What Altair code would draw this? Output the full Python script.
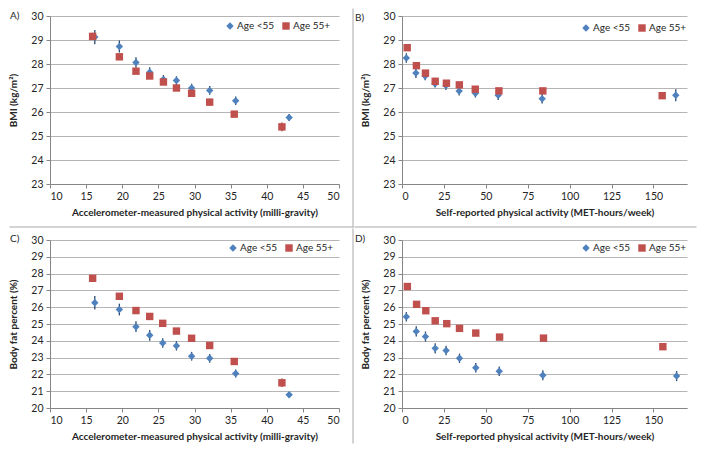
import altair as alt
import pandas as pd

# ---------------- data ----------------
GROUPS = ["Age <55", "Age 55+"]

# Panel A: BMI vs accelerometer-measured activity
A_x_young = [16.2, 19.6, 21.9, 23.8, 25.7, 27.5, 29.6, 32.1, 35.7, 43.1]
A_y_young = [29.12, 28.73, 28.06, 27.66, 27.36, 27.31, 27.00, 26.90, 26.47, 25.77]
A_e_young = [0.30, 0.25, 0.22, 0.20, 0.18, 0.18, 0.18, 0.18, 0.18, 0.15]
A_x_old = [15.9, 19.6, 21.9, 23.8, 25.7, 27.5, 29.6, 32.1, 35.5, 42.1]
A_y_old = [29.15, 28.30, 27.70, 27.50, 27.25, 27.00, 26.78, 26.41, 25.91, 25.38]
A_e_old = [0.15, 0.12, 0.12, 0.12, 0.12, 0.12, 0.12, 0.14, 0.12, 0.18]

# Panel B: BMI vs self-reported activity
B_x_young = [2.6, 8.3, 13.8, 19.7, 26.2, 34.1, 43.8, 57.4, 83.6, 163.3]
B_y_young = [28.25, 27.62, 27.50, 27.18, 27.10, 26.87, 26.78, 26.70, 26.55, 26.70]
B_e_young = [0.20, 0.20, 0.18, 0.16, 0.18, 0.18, 0.18, 0.20, 0.20, 0.25]
B_x_old = [3.1, 8.6, 14.0, 19.8, 26.5, 34.2, 43.7, 57.8, 84.0, 155.2]
B_y_old = [28.68, 27.93, 27.62, 27.28, 27.20, 27.13, 26.95, 26.88, 26.88, 26.68]
B_e_old = [0.14, 0.12, 0.12, 0.12, 0.12, 0.12, 0.12, 0.12, 0.12, 0.12]

# Panel C: body fat % vs accelerometer-measured activity
C_x_young = [16.2, 19.6, 21.9, 23.8, 25.6, 27.5, 29.6, 32.1, 35.7, 43.1]
C_y_young = [26.26, 25.86, 24.84, 24.33, 23.87, 23.70, 23.08, 22.96, 22.05, 20.79]
C_e_young = [0.40, 0.35, 0.32, 0.32, 0.28, 0.28, 0.26, 0.26, 0.24, 0.16]
C_x_old = [15.9, 19.6, 21.9, 23.8, 25.6, 27.5, 29.6, 32.1, 35.5, 42.1]
C_y_old = [27.72, 26.65, 25.80, 25.45, 25.04, 24.58, 24.15, 23.72, 22.77, 21.50]
C_e_old = [0.15, 0.15, 0.15, 0.15, 0.15, 0.15, 0.15, 0.15, 0.18, 0.25]

# Panel D: body fat % vs self-reported activity
D_x_young = [2.6, 8.5, 14.0, 19.8, 26.3, 34.3, 44.0, 58.0, 84.0, 163.8]
D_y_young = [25.43, 24.56, 24.25, 23.55, 23.42, 22.96, 22.40, 22.19, 21.95, 21.90]
D_e_young = [0.28, 0.30, 0.30, 0.30, 0.28, 0.28, 0.28, 0.28, 0.30, 0.30]
D_x_old = [3.2, 8.7, 14.2, 19.8, 26.7, 34.3, 44.0, 58.2, 84.4, 155.6]
D_y_old = [27.23, 26.17, 25.79, 25.19, 25.02, 24.74, 24.46, 24.22, 24.16, 23.65]
D_e_old = [0.15, 0.15, 0.15, 0.15, 0.15, 0.15, 0.15, 0.15, 0.15, 0.18]

ACC_TICKS = [10, 15, 20, 25, 30, 35, 40, 45, 50]
MET_TICKS = [0, 25, 50, 75, 100, 125, 150]
BMI_TICKS = [23, 24, 25, 26, 27, 28, 29, 30]
FAT_TICKS = [20, 21, 22, 23, 24, 25, 26, 27, 28, 29, 30]

ACC_TITLE = "Accelerometer-measured physical activity (milli-gravity)"
MET_TITLE = "Self-reported physical activity (MET-hours/week)"
BMI_TITLE = "BMI (kg/m²)"
FAT_TITLE = "Body fat percent (%)"

# ---------------- styling ----------------
FONT = "Lato"
BLUE, RED = "#4F81BD", "#C0504D"
BLUE_ERR, RED_ERR = "#2B4A70", "#7E2A28"
GRID = "#B5B5B5"
AXIS = "#868686"
TEXT = "#262626"
DIVIDER = "#A8A8A8"


def make_df(xy, xo, yy, yo, ey, eo):
    rows = []
    for x, y, e in zip(xy, yy, ey):
        rows.append({"x": x, "y": y, "lo": y - e, "hi": y + e, "group": GROUPS[0]})
    for x, y, e in zip(xo, yo, eo):
        rows.append({"x": x, "y": y, "lo": y - e, "hi": y + e, "group": GROUPS[1]})
    return pd.DataFrame(rows)


def panel(df, xdom, xticks, xtitle, ydom, yticks, ytitle, label,
          W, H, L, R, T, B, leg_x, leg_y, label_y, right_div, bottom_div):
    xs = alt.Scale(domain=xdom, nice=False, zero=False)
    ys = alt.Scale(domain=ydom, nice=False, zero=False)
    xaxis = alt.Axis(values=xticks, tickCount=40, format="d", title=xtitle,
                     grid=False, tickSize=4, labelPadding=3, titlePadding=6,
                     domainColor=AXIS, tickColor=AXIS, labelFontSize=10.5,
                     titleFontSize=10, titleFontWeight="bold", labelColor=TEXT,
                     titleColor=TEXT, labelFont=FONT, titleFont=FONT,
                     labelOverlap=False)
    yaxis = alt.Axis(values=yticks, tickCount=40, format="d", title=ytitle,
                     grid=True, gridColor=GRID, tickSize=4, labelPadding=3,
                     titlePadding=12, domainColor=AXIS, tickColor=AXIS,
                     labelFontSize=10.5, titleFontSize=10, titleFontWeight="bold",
                     labelColor=TEXT, titleColor=TEXT, labelFont=FONT,
                     titleFont=FONT, labelOverlap=False)

    base = alt.Chart(df)
    err_young = base.transform_filter(alt.datum.group == GROUPS[0]).mark_rule(
        strokeWidth=1.3, color=BLUE_ERR).encode(
        x=alt.X("x:Q", scale=xs, axis=xaxis),
        y=alt.Y("lo:Q", scale=ys, axis=yaxis),
        y2="hi:Q",
    )
    err_old = base.transform_filter(alt.datum.group == GROUPS[1]).mark_rule(
        strokeWidth=1.3, color=RED_ERR).encode(
        x=alt.X("x:Q", scale=xs),
        y=alt.Y("lo:Q", scale=ys),
        y2="hi:Q",
    )
    legend = alt.Legend(title=None, orient="none", legendX=leg_x, legendY=leg_y,
                        direction="horizontal", symbolSize=55, padding=0,
                        labelFont=FONT, labelFontSize=10, labelColor=TEXT,
                        columnPadding=6, labelOffset=2)
    pts = base.mark_point(filled=True, opacity=1, size=55).encode(
        x=alt.X("x:Q", scale=xs),
        y=alt.Y("y:Q", scale=ys),
        color=alt.Color("group:N", scale=alt.Scale(domain=GROUPS, range=[BLUE, RED]),
                        legend=legend),
        shape=alt.Shape("group:N",
                        scale=alt.Scale(domain=GROUPS, range=["diamond", "square"]),
                        legend=legend),
    )
    one = alt.Chart(pd.DataFrame({"k": [0]}))
    # invisible frame that fixes the panel's bounds
    frame = one.mark_rect(opacity=0).encode(
        x=alt.value(-L), x2=alt.value(W + R), y=alt.value(-T), y2=alt.value(H + B))
    lab = one.mark_text(align="left", baseline="top", font=FONT, fontSize=10,
                        color=TEXT).encode(
        x=alt.value(-L + 1), y=alt.value(label_y), text=alt.value(label))
    layers = [frame, err_young, err_old, pts, lab]
    if right_div:
        layers.append(one.mark_rule(color=DIVIDER, strokeWidth=1).encode(
            x=alt.value(W + R - 1), y=alt.value(-T + 0.5), y2=alt.value(H + B - 0.5)))
    if bottom_div:
        layers.append(one.mark_rule(color=DIVIDER, strokeWidth=1).encode(
            x=alt.value(-L + 0.5), x2=alt.value(W + R - 0.5), y=alt.value(H + B - 1)))
    return alt.layer(*layers).properties(width=W, height=H)


dfA = make_df(A_x_young, A_x_old, A_y_young, A_y_old, A_e_young, A_e_old)
dfB = make_df(B_x_young, B_x_old, B_y_young, B_y_old, B_e_young, B_e_old)
dfC = make_df(C_x_young, C_x_old, C_y_young, C_y_old, C_e_young, C_e_old)
dfD = make_df(D_x_young, D_x_old, D_y_young, D_y_old, D_e_young, D_e_old)

pA = panel(dfA, [10, 50], ACC_TICKS, ACC_TITLE, [23, 30], BMI_TICKS, BMI_TITLE, "A)",
           W=289, H=168, L=41, R=15, T=8, B=44, leg_x=175, leg_y=5, label_y=-5,
           right_div=True, bottom_div=True)
pB = panel(dfB, [0, 170], MET_TICKS, MET_TITLE, [23, 30], BMI_TICKS, BMI_TITLE, "B)",
           W=285, H=168, L=48, R=10, T=8, B=44, leg_x=179, leg_y=7, label_y=-3,
           right_div=False, bottom_div=True)
pC = panel(dfC, [10, 50], ACC_TICKS, ACC_TITLE, [20, 30], FAT_TICKS, FAT_TITLE, "C)",
           W=289, H=168, L=41, R=15, T=12, B=36, leg_x=178, leg_y=3, label_y=-6,
           right_div=True, bottom_div=False)
pD = panel(dfD, [0, 170], MET_TICKS, MET_TITLE, [20, 30], FAT_TICKS, FAT_TITLE, "D)",
           W=285, H=168, L=48, R=10, T=12, B=36, leg_x=179, leg_y=3, label_y=-6,
           right_div=False, bottom_div=False)

chart = alt.concat(pA, pB, pC, pD, columns=2, spacing=0).resolve_scale(
    color="independent", shape="independent"
).resolve_legend(
    color="independent", shape="independent"
).properties(
    padding=0, background="white", align="each"
).configure_view(stroke=None)

chart.save("out.html", embed_options={"renderer": "svg", "actions": False})
